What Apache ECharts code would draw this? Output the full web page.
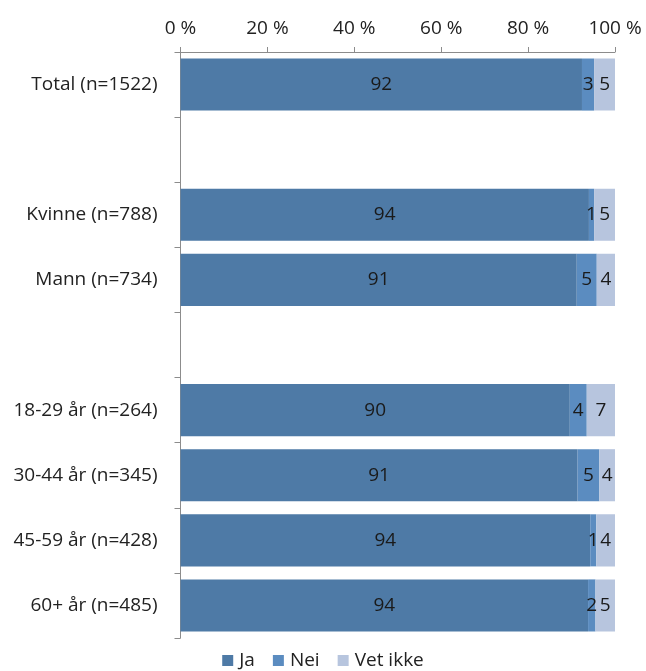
<!DOCTYPE html>
<html>
<head>
<meta charset="utf-8">
<script src="https://cdn.jsdelivr.net/npm/echarts@6/dist/echarts.min.js"></script>
<style>html,body{margin:0;padding:0;background:#fff;}#c{width:646px;height:671px;}</style>
</head>
<body>
<div id="c"></div>
<script>
const categories = ['Total (n=1522)', '', 'Kvinne (n=788)', 'Mann (n=734)', ' ', '18-29 år (n=264)', '30-44 år (n=345)', '45-59 år (n=428)', '60+ år (n=485)'];
const ja      = [92.4, null, 94.0, 91.2, null, 89.6, 91.4, 94.3, 93.8];
const nei     = [2.8,  null, 1.2,  4.6,  null, 3.9,  5.0,  1.4,  1.7];
const vetIkke = [4.8,  null, 4.8,  4.2,  null, 6.5,  3.6,  4.3,  4.5];
const tickLabels = ['0 %', '20 %', '40 %', '60 %', '80 %', '100 %'];
const seriesNames = ['Ja', 'Nei', 'Vet ikke'];
const colors = ['#4e7aa6', '#5b8cc0', '#b7c5de'];

const font = '"Open Sans", "Noto Sans", sans-serif';
const fs = 19;
const chart = echarts.init(document.getElementById('c'));
const mk = (name, data, color) => ({
  name, type: 'bar', stack: 'a', data, barCategoryGap: '20%',
  itemStyle: { color },
  label: {
    show: true, position: 'inside', color: '#1a1a1a', fontSize: fs, fontFamily: font,
    formatter: p => p.value == null ? '' : String(Math.round(p.value))
  }
});
chart.setOption({
  animation: false,
  grid: { left: 180.5, right: 31, top: 52, bottom: 33, containLabel: false },
  legend: {
    top: 651, left: 'center', itemWidth: 11, itemHeight: 11, itemGap: 18,
    icon: 'rect', padding: 0,
    textStyle: { fontSize: fs, color: '#222', fontFamily: font, padding: [0, 0, 0, 1] },
    data: seriesNames
  },
  xAxis: {
    type: 'value', position: 'top', min: 0, max: 100, interval: 20,
    axisLine: { show: true, lineStyle: { color: '#8c8c8c' } },
    axisTick: { show: true, length: 5, lineStyle: { color: '#8c8c8c' } },
    splitLine: { show: false },
    axisLabel: { fontSize: fs, color: '#222', fontFamily: font, margin: 14,
      formatter: v => tickLabels[Math.round(v / 20)] }
  },
  yAxis: {
    type: 'category', data: categories, inverse: true,
    axisLine: { show: true, lineStyle: { color: '#8c8c8c' } },
    axisTick: { show: true, length: 6, lineStyle: { color: '#8c8c8c' } },
    axisLabel: { fontSize: fs, color: '#222', fontFamily: font, margin: 23 }
  },
  series: [mk(seriesNames[0], ja, colors[0]), mk(seriesNames[1], nei, colors[1]), mk(seriesNames[2], vetIkke, colors[2])]
});
</script>
</body>
</html>
